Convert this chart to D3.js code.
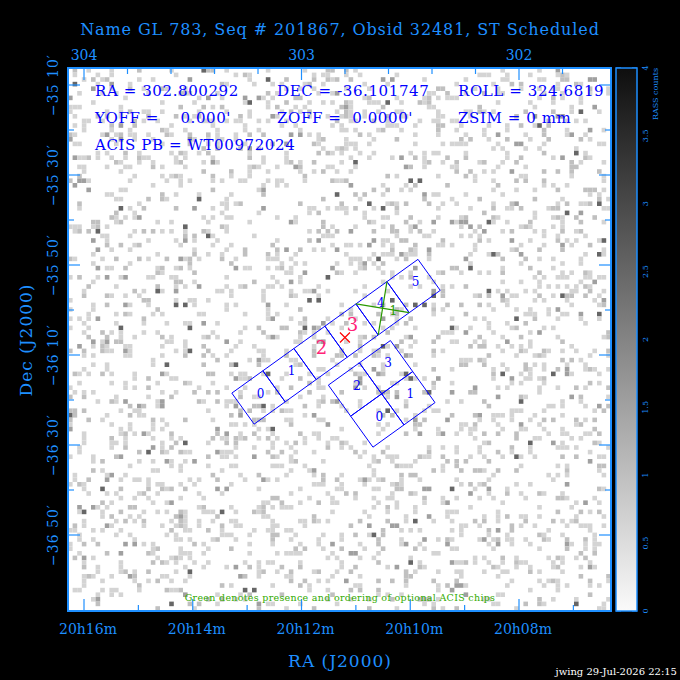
<!DOCTYPE html>
<html lang="en">
<head>
<meta charset="UTF-8">
<title>GL 783 field</title>
<script src="https://d3js.org/d3.v7.min.js"></script>
<style>
  body { margin: 0; background: #000; }
  svg text { font-family: 'DejaVu Serif', serif; }
</style>
</head>
<body>
<svg id="chart" width="680" height="680"></svg>
<script>
// Pointing / header values
const pointing = { ra: 302.800292, dec: -36.101747, roll: 324.6819 };
const infoLines = [
  ["RA = 302.800292", "DEC = -36.101747", "ROLL = 324.6819"],
  ["YOFF =    0.000'", "ZOFF =  0.0000'", "ZSIM = 0 mm"],
  ["ACIS PB = WT00972024", "", ""]
];
// RA axis ticks (deg) and labels
const raTopTicks = [304, 303, 302];
const raBottomTicks = [304, 303.5, 303, 302.5, 302];
const raBottomLabels = ["20h16m", "20h14m", "20h12m", "20h10m", "20h08m"];
// Dec axis ticks (deg) and labels
const decTicks = [-35 - 10/60, -35.5, -35 - 50/60, -36 - 10/60, -36.5, -36 - 50/60];
const decLabels = ["−35 10′", "−35 30′", "−35 50′", "−36 10′", "−36 30′", "−36 50′"];
// Colorbar
const cbarTicks = [0, 0.5, 1, 1.5, 2, 2.5, 3, 3.5, 4];
// ACIS chips: offsets from pointing in chip units (u along S array, v across)
const sChips = ["0", "1", "", "", "4", "5"];
const sChipU = [-2.754, -1.754, -0.754, 0.246, 1.246, 2.246];
const sChipV = -0.045;
const iChips = ["2", "3", "0", "1"];
const iChipU = [-0.58, 0.42, -0.58, 0.42];
const iChipV = [1.26, 1.26, 2.26, 2.26];
const optionalChips = [{ chip: 4, order: "1" }];
const selectedS = [{ chip: 2, text: "2" }, { chip: 3, text: "3" }];

const svg = d3.select("#chart");
const L = 68, R = 611, T = 68, B = 611;
const blue = "#1e8fff", ink = "#0000ff";

const x = d3.scaleLinear().domain([304, 302]).range([84, 519]);
const y = d3.scaleLinear().domain([-35 - 10/60, -36 - 50/60]).range([85, 535]);
const chipPx = 38.2;
const ang = -35.7 * Math.PI / 180;
const uv = (u, v) => [
  x(pointing.ra) + chipPx * (u * Math.cos(ang) - v * Math.sin(ang)),
  y(pointing.dec) + chipPx * (u * Math.sin(ang) + v * Math.cos(ang))
];

// image background (RASS texture, seeded)
svg.append("rect").attr("x", L).attr("y", T).attr("width", R - L).attr("height", B - T).attr("fill", "#fff");
let seed = 201867;
const rnd = () => (seed = (seed * 1103515245 + 12345) % 2147483648) / 2147483648;
const cell = 4.6;
const bg = svg.append("g");
for (let gy = T; gy < B - 1; gy += cell) {
  for (let gx = L; gx < R - 1; gx += cell) {
    const r = rnd();
    if (r < 0.2) {
      const c = r < 0.006 ? "#666" : r < 0.02 ? "#a0a0a0" : r < 0.07 ? "#c0c0c0" : "#d4d4d4";
      bg.append("rect").attr("x", gx).attr("y", gy)
        .attr("width", Math.min(cell, R - gx)).attr("height", Math.min(cell, B - gy)).attr("fill", c);
    }
  }
}
svg.append("rect").attr("x", L).attr("y", T).attr("width", R - L).attr("height", B - T)
  .attr("fill", "none").attr("stroke", blue).attr("stroke-width", 2);

// ticks
const tk = svg.append("g").attr("stroke", blue).attr("stroke-width", 1.2);
d3.range(304, 301.79, -0.2).forEach(d => {
  const major = raTopTicks.some(t => Math.abs(t - d) < 1e-6);
  tk.append("line").attr("x1", x(d)).attr("x2", x(d)).attr("y1", T).attr("y2", T + (major ? 12 : 6));
});
d3.range(304.25, 301.7, -0.25).forEach(d => {
  if (x(d) < L || x(d) > R) return;
  const major = raBottomTicks.some(t => Math.abs(t - d) < 1e-6);
  tk.append("line").attr("x1", x(d)).attr("x2", x(d)).attr("y1", B).attr("y2", B - (major ? 12 : 6));
});
d3.range(-35, -37, -10/60).forEach(d => {
  if (y(d) < T || y(d) > B) return;
  const major = decTicks.some(t => Math.abs(t - d) < 1e-6);
  tk.append("line").attr("y1", y(d)).attr("y2", y(d)).attr("x1", L).attr("x2", L + (major ? 12 : 6));
  tk.append("line").attr("y1", y(d)).attr("y2", y(d)).attr("x1", R).attr("x2", R - (major ? 12 : 6));
});

// axis labels
raTopTicks.forEach(d => svg.append("text").attr("x", x(d)).attr("y", 60).attr("text-anchor", "middle")
  .attr("fill", blue).attr("font-size", 14).text(d));
raBottomTicks.forEach((d, i) => svg.append("text").attr("x", x(d) + 4).attr("y", 634).attr("text-anchor", "middle")
  .attr("fill", blue).attr("font-size", 14).text(raBottomLabels[i]));
decTicks.forEach((d, i) => svg.append("text").attr("transform", `translate(58,${y(d)}) rotate(-90)`)
  .attr("text-anchor", "middle").attr("fill", blue).attr("font-size", 14).attr("letter-spacing", 1).text(decLabels[i]));
svg.append("text").attr("x", 340).attr("y", 667).attr("text-anchor", "middle").attr("fill", blue)
  .attr("font-size", 17).attr("letter-spacing", 1).text("RA (J2000)");
svg.append("text").attr("transform", "translate(32,340) rotate(-90)").attr("text-anchor", "middle")
  .attr("fill", blue).attr("font-size", 17).attr("letter-spacing", 1).text("Dec (J2000)");
svg.append("text").attr("x", 340).attr("y", 35).attr("text-anchor", "middle").attr("fill", blue)
  .attr("font-size", 16).attr("letter-spacing", 0.9).text("Name GL 783, Seq # 201867, Obsid 32481, ST Scheduled");
svg.append("text").attr("x", 677).attr("y", 675).attr("text-anchor", "end").attr("fill", "#fff")
  .attr("font-size", 10).attr("font-family", "DejaVu Sans").text("jwing 29-Jul-2026 22:15");

// header info
const colX = [95, 277, 458];
infoLines.forEach((row, r) => row.forEach((t, c) => {
  if (!t) return;
  svg.append("text").attr("x", colX[c]).attr("y", 96 + r * 27).attr("fill", ink)
    .attr("font-size", 15).attr("letter-spacing", 0.6).attr("xml:space", "preserve")
    .style("white-space", "pre").text(t);
}));

// chips
const chipG = svg.append("g");
const chipPoly = (u, v) => [uv(u - .5, v - .5), uv(u + .5, v - .5), uv(u + .5, v + .5), uv(u - .5, v + .5)];
const drawChip = (u, v, label, du = 0.1, dv = -0.05) => {
  chipG.append("polygon").attr("points", chipPoly(u, v).map(p => p.join(",")).join(" "))
    .attr("fill", "none").attr("stroke", ink).attr("stroke-width", 1);
  if (!label) return;
  const [px, py] = uv(u + du, v + dv);
  chipG.append("text").attr("x", px).attr("y", py + 4).attr("text-anchor", "middle")
    .attr("fill", ink).attr("font-size", 12).text(label);
};
sChips.forEach((c, i) => drawChip(sChipU[i], sChipV, c, i === 4 ? 0.05 : 0.1, i === 4 ? -0.15 : -0.05));
iChips.forEach((c, i) => drawChip(iChipU[i], iChipV[i], c));

optionalChips.forEach(o => {
  const p = chipPoly(sChipU[o.chip], sChipV);
  [[0, 2], [1, 3]].forEach(([a, b]) => chipG.append("line")
    .attr("x1", p[a][0]).attr("y1", p[a][1]).attr("x2", p[b][0]).attr("y2", p[b][1])
    .attr("stroke", "#2a9a00").attr("stroke-width", 1.2));
  const [px, py] = uv(sChipU[o.chip] + 0.2, sChipV + 0.2);
  chipG.append("text").attr("x", px).attr("y", py + 5).attr("text-anchor", "middle")
    .attr("fill", "#2a9a00").attr("font-size", 12).text(o.order);
});
selectedS.forEach(s => {
  const [px, py] = uv(sChipU[s.chip] + 0.1, sChipV - 0.1);
  chipG.append("text").attr("x", px).attr("y", py + 6).attr("text-anchor", "middle")
    .attr("fill", "#ff2277").attr("font-size", 18).text(s.text);
});
// aimpoint
const [ax, ay] = [x(pointing.ra), y(pointing.dec)];
chipG.append("path").attr("d", `M${ax-5},${ay-5}L${ax+5},${ay+5}M${ax-5},${ay+5}L${ax+5},${ay-5}`)
  .attr("stroke", "#ff0000").attr("stroke-width", 1.2);

svg.append("text").attr("x", 340).attr("y", 601).attr("text-anchor", "middle").attr("fill", "#33aa00")
  .attr("font-size", 9.5).attr("letter-spacing", 0.3).text("Green denotes presence and ordering of optional ACIS chips");

// colorbar
const cb = d3.scaleLinear().domain([0, 4]).range([B, T]);
const defs = svg.append("defs");
const grad = defs.append("linearGradient").attr("id", "cg").attr("x1", 0).attr("x2", 0).attr("y1", 1).attr("y2", 0);
grad.append("stop").attr("offset", 0).attr("stop-color", "#fafafa");
grad.append("stop").attr("offset", 1).attr("stop-color", "#0e0e0e");
svg.append("rect").attr("x", 616).attr("y", T).attr("width", 21).attr("height", B - T)
  .attr("fill", "url(#cg)").attr("stroke", blue).attr("stroke-width", 1.5);
d3.range(0, 4.01, 0.25).forEach(d => {
  const len = d % 0.5 === 0 ? 5 : 3;
  tk.append("line").attr("x1", 616).attr("x2", 616 + len).attr("y1", cb(d)).attr("y2", cb(d));
  tk.append("line").attr("x1", 637).attr("x2", 637 - len).attr("y1", cb(d)).attr("y2", cb(d));
});
cbarTicks.forEach(d => svg.append("text").attr("transform", `translate(648,${cb(d)}) rotate(-90)`)
  .attr("text-anchor", "middle").attr("fill", blue).attr("font-size", 8).text(d));
svg.append("text").attr("transform", `translate(658,${T}) rotate(-90)`).attr("text-anchor", "end")
  .attr("fill", blue).attr("font-size", 8).text("RASS counts");
</script>
</body>
</html>
